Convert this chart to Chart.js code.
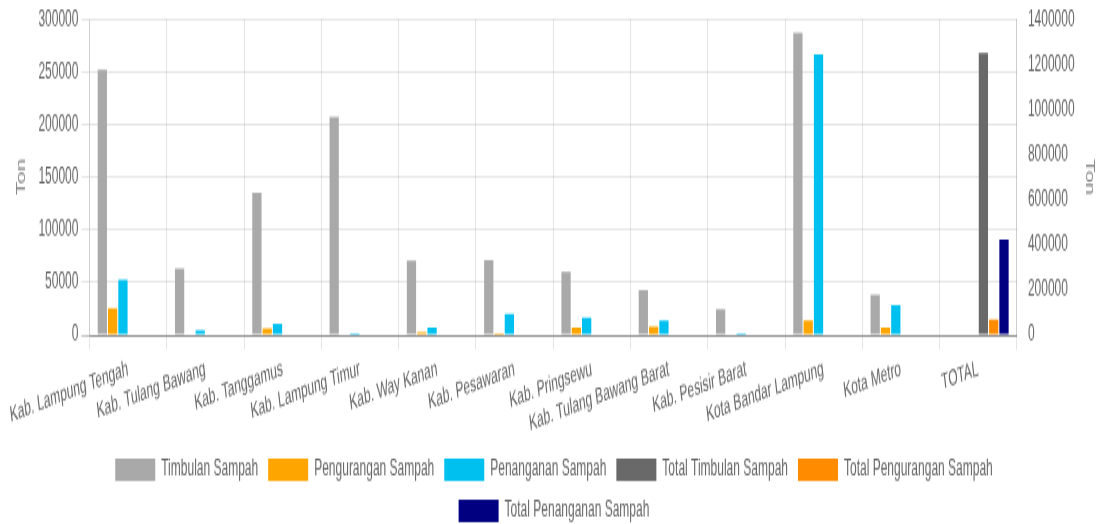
<!DOCTYPE html>
<html>
<head>
<meta charset="utf-8">
<script src="https://cdn.jsdelivr.net/npm/chart.js@4/dist/chart.umd.min.js"></script>
<style>
  html, body { margin: 0; padding: 0; background: #fff; overflow: hidden; }
  #wrap { width: 1101px; height: 524px; overflow: hidden; }
  #c { display: block; width: 1101px; height: 524px; }
</style>
</head>
<body>
<div id="wrap"><canvas id="c" width="1101" height="280"></canvas></div>
<script>
const categories = ["Kab. Lampung Tengah", "Kab. Tulang Bawang", "Kab. Tanggamus", "Kab. Lampung Timur",
  "Kab. Way Kanan", "Kab. Pesawaran", "Kab. Pringsewu", "Kab. Tulang Bawang Barat",
  "Kab. Pesisir Barat", "Kota Bandar Lampung", "Kota Metro", "TOTAL"];
const timbulan    = [251800, 63000, 135200, 207000, 70600, 71200, 59900, 42500, 24300, 287100, 38400, null];
const pengurangan = [25200, 0, 6300, 0, 2500, 1900, 7200, 8200, 0, 13600, 6900, null];
const penanganan  = [52600, 4400, 10700, 1600, 7200, 20200, 16400, 13600, 1900, 266600, 28400, null];
const totalTimbulan    = [null, null, null, null, null, null, null, null, null, null, null, 1250000];
const totalPengurangan = [null, null, null, null, null, null, null, null, null, null, null, 69100];
const totalPenanganan  = [null, null, null, null, null, null, null, null, null, null, null, 422000];
const leftTicks = { max: 300000, step: 50000 };
const rightTicks = { max: 1400000, step: 200000 };

Chart.defaults.font.family = "'Liberation Sans', Arial, Helvetica, sans-serif";
Chart.defaults.font.size = 12;
Chart.defaults.color = '#666';

const plain = (v) => String(v);

const canvas = document.getElementById('c');
new Chart(canvas, {
  type: 'bar',
  data: {
    labels: categories,
    datasets: [
      { label: 'Timbulan Sampah', data: timbulan, backgroundColor: '#a9a9a9', yAxisID: 'y' },
      { label: 'Pengurangan Sampah', data: pengurangan, backgroundColor: '#ffa500', yAxisID: 'y' },
      { label: 'Penanganan Sampah', data: penanganan, backgroundColor: '#00c0ef', yAxisID: 'y' },
      { label: 'Total Timbulan Sampah', data: totalTimbulan, backgroundColor: '#696969', yAxisID: 'y1' },
      { label: 'Total Pengurangan Sampah', data: totalPengurangan, backgroundColor: '#ff8c00', yAxisID: 'y1' },
      { label: 'Total Penanganan Sampah', data: totalPenanganan, backgroundColor: '#000080', yAxisID: 'y1' }
    ]
  },
  options: {
    responsive: false,
    animation: false,
    devicePixelRatio: 1,
    layout: { padding: { left: 7, right: 0, top: 1, bottom: -9 } },
    plugins: {
      legend: {
        position: 'bottom',
        labels: { boxWidth: 40, boxHeight: 12, color: '#666', font: { size: 12 } }
      },
      tooltip: { enabled: false }
    },
    scales: {
      x: {
        grid: { offset: true, color: 'rgba(0,0,0,0.1)', tickLength: 8 },
        border: { color: 'rgba(0,0,0,0.25)' },
        ticks: { minRotation: 12, maxRotation: 12, autoSkip: false, color: '#666' },
        afterFit: (scale) => { scale.height = 56; }
      },
      y: {
        position: 'left',
        min: 0, max: leftTicks.max,
        ticks: { stepSize: leftTicks.step, color: '#666', callback: plain },
        grid: { color: (c) => c.tick && c.tick.value === 0 ? 'rgba(0,0,0,0.25)' : 'rgba(0,0,0,0.1)', tickLength: 8 },
        border: { color: 'rgba(0,0,0,0.1)' },
        title: { display: true, text: 'Ton', color: '#888', font: { weight: 'normal' }, padding: { top: 7, bottom: 7 } }
      },
      y1: {
        position: 'right',
        min: 0, max: rightTicks.max,
        ticks: { stepSize: rightTicks.step, color: '#666', callback: plain },
        grid: { drawOnChartArea: false, color: 'rgba(0,0,0,0)', tickLength: 8 },
        border: { color: 'rgba(0,0,0,0.1)' },
        title: { display: true, text: 'Ton', color: '#888', font: { weight: 'normal' }, padding: { top: 4, bottom: 5 } }
      }
    }
  }
});
canvas.style.width = '1101px';
canvas.style.height = '524px';
</script>
</body>
</html>
